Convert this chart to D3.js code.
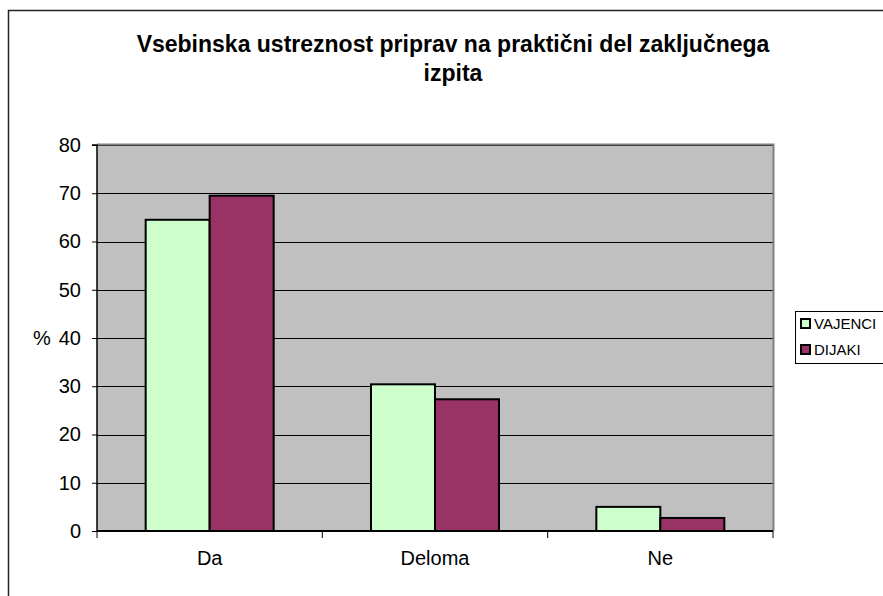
<!DOCTYPE html>
<html><head><meta charset="utf-8">
<script src="https://cdn.jsdelivr.net/npm/d3@7"></script>
<style>body{margin:0;background:#fff}svg{display:block}text{font-family:"Liberation Sans",Arial,sans-serif}</style>
</head><body><svg id="c" width="883" height="596"></svg>
<script>
const categories = ["Da", "Deloma", "Ne"];
const seriesNames = ["VAJENCI", "DIJAKI"];
const vajenci = [64.5, 30.4, 5.0];
const dijaki = [69.5, 27.3, 2.7];
const yTicks = [0, 10, 20, 30, 40, 50, 60, 70, 80];
const colors = ["#ccffcc", "#993366"];

const svg = d3.select("#c");
// outer frame
svg.append("rect").attr("x", 8.5).attr("y", 10.5).attr("width", 900).attr("height", 700)
  .attr("fill", "#fff").attr("stroke", "#222").attr("stroke-width", 1.5);

const L = 97, R = 773, T = 145, B = 531;
const x = d3.scaleBand().domain(categories).range([L, R]).paddingInner(0).paddingOuter(0);
const y = d3.scaleLinear().domain([0, 80]).range([B, T]);

svg.append("rect").attr("x", L).attr("y", T).attr("width", R - L).attr("height", B - T)
  .attr("fill", "#c0c0c0");
// grid
svg.append("g").selectAll("line").data(yTicks.filter(d => d > 0)).join("line")
  .attr("x1", L).attr("x2", R).attr("y1", d => Math.round(y(d)) + 0.5).attr("y2", d => Math.round(y(d)) + 0.5)
  .attr("stroke", "#000").attr("stroke-width", 1);
// gray top/right border
svg.append("path").attr("d", `M${L},${T - 0.5}H${R + 0.5}V${B}`).attr("fill", "none")
  .attr("stroke", "#808080").attr("stroke-width", 2);

const bw = 64;
const series = [vajenci, dijaki];
series.forEach((vals, si) => {
  svg.append("g").selectAll("rect").data(categories).join("rect")
    .attr("x", (d) => x(d) + x.bandwidth() / 2 - bw + si * bw)
    .attr("y", (d, i) => y(vals[i]))
    .attr("width", bw)
    .attr("height", (d, i) => B - y(vals[i]))
    .attr("fill", colors[si]).attr("stroke", "#000").attr("stroke-width", 2);
});

// y axis
const yAxis = d3.axisLeft(y).tickValues(yTicks).tickSize(5).tickPadding(11);
const ga = svg.append("g").attr("transform", `translate(${L},0)`).call(yAxis);
ga.select(".domain").attr("stroke", "#000").attr("stroke-width", 1.5).attr("d", `M-5,${T}H0V${B}`);
ga.selectAll(".tick line").attr("stroke", "#000");
ga.selectAll(".tick text").attr("font-size", 20).attr("fill", "#000")
  .attr("font-family", "Liberation Sans, Arial, sans-serif");
// x axis
const xAxis = d3.axisBottom(x).tickSize(0).tickPadding(20);
const gx = svg.append("g").attr("transform", `translate(0,${B})`).call(xAxis);
gx.select(".domain").attr("stroke", "#000").attr("stroke-width", 2).attr("d", `M${L},0H${R}`);
gx.selectAll(".tick text").attr("font-size", 20).attr("fill", "#000")
  .attr("font-family", "Liberation Sans, Arial, sans-serif");
// boundary ticks
const bounds = [L, ...categories.slice(1).map(c => x(c)), R];
svg.append("g").selectAll("line").data(bounds).join("line")
  .attr("x1", d => d).attr("x2", d => d).attr("y1", B).attr("y2", B + 7)
  .attr("stroke", "#000").attr("stroke-width", 1);

// y title
svg.append("text").attr("x", 33).attr("y", y(40)).attr("dy", "0.35em")
  .attr("font-size", 20).text("%");

// title
svg.append("text").attr("x", 453).attr("y", 52).attr("text-anchor", "middle")
  .attr("font-size", 23).attr("font-weight", "bold").text("Vsebinska ustreznost priprav na praktični del zaključnega");
svg.append("text").attr("x", 453).attr("y", 81).attr("text-anchor", "middle")
  .attr("font-size", 23).attr("font-weight", "bold").text("izpita");

// legend
const lg = svg.append("g");
lg.append("rect").attr("x", 795.5).attr("y", 311.5).attr("width", 90).attr("height", 52)
  .attr("fill", "#fff").attr("stroke", "#000").attr("stroke-width", 1);
seriesNames.forEach((n, i) => {
  const yy = 324 + i * 26;
  lg.append("rect").attr("x", 801).attr("y", yy - 5).attr("width", 9).attr("height", 9)
    .attr("fill", colors[i]).attr("stroke", "#000").attr("stroke-width", 2);
  lg.append("text").attr("x", 814).attr("y", yy).attr("dy", "0.35em").attr("font-size", 15).text(n);
});
</script></body></html>
